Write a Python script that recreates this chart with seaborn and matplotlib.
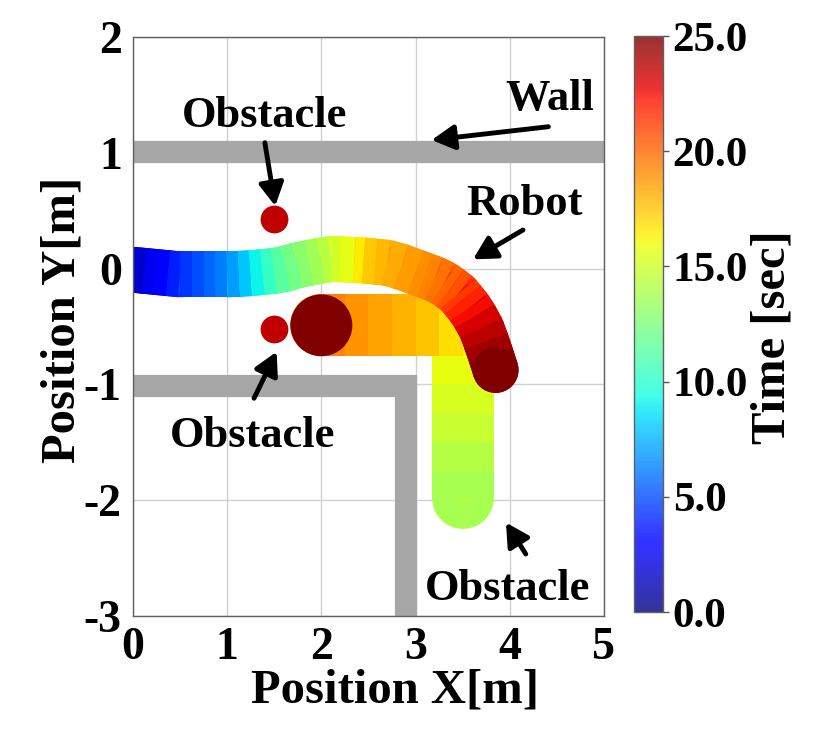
import matplotlib
matplotlib.use("Agg")
import numpy as np
import pandas as pd
import seaborn as sns
from matplotlib import pyplot as plt
from matplotlib.collections import LineCollection
from matplotlib.colors import Normalize, ListedColormap
from matplotlib.cm import ScalarMappable

# robot trajectory
robot_x = [0.0, 0.125, 0.25, 0.375, 0.5, 0.625, 0.75, 0.875, 1.0, 1.125, 1.25, 1.375,
           1.5, 1.625, 1.75, 1.875, 2.0, 2.1, 2.2, 2.35, 2.45, 2.575, 2.7, 2.85,
           3.0, 3.1, 3.2, 3.3, 3.37, 3.45, 3.5, 3.57, 3.63, 3.7, 3.75, 3.8, 3.85]
robot_y = [-0.01, -0.02, -0.03, -0.04, -0.05, -0.05, -0.05, -0.05, -0.05, -0.045, -0.04, -0.03,
           -0.02, 0.0, 0.03, 0.05, 0.07, 0.08, 0.08, 0.075, 0.07, 0.06, 0.05, 0.015,
           -0.03, -0.06, -0.09, -0.13, -0.17, -0.22, -0.27, -0.34, -0.415, -0.52, -0.63, -0.75, -0.876]
robot_t = [1.4, 2.1, 2.8, 3.5, 4.2, 4.7, 5.3, 5.9, 6.5, 7.4, 8.5, 9.7,
           10.9, 11.8, 12.6, 13.3, 14.0, 14.7, 15.3, 16.0, 17.2, 17.6, 18.0, 18.4,
           18.8, 19.1, 19.5, 19.9, 20.3, 20.9, 21.5, 22.1, 22.8, 23.4, 24.0, 24.5, 25.0]

# moving obstacle trajectory
obst_x = [3.5, 3.5, 3.5, 3.5, 3.5, 3.5, 3.5, 3.25, 3.0, 2.75, 2.5, 2.25, 2.0]
obst_y = [-1.98, -1.75, -1.5, -1.25, -1.0, -0.75, -0.49, -0.49, -0.49, -0.49, -0.49, -0.49, -0.49]
obst_t = [13.6, 14.0, 14.5, 15.0, 15.5, 16.0, 16.5, 17.2, 17.8, 18.2, 18.6, 19.0, 19.5]

# obstacle stays at its last position until the end
obst_end_x = [2.0]
obst_end_y = [-0.49]
obst_end_t = [25.0]

# static obstacles
static_x = [1.5, 1.5]
static_y = [0.43, -0.52]

# walls (centre lines)
wall_top_x = [-0.2, 5.2]
wall_top_y = [1.01, 1.01]
wall_low_x = [-0.2, 2.9, 2.9]
wall_low_y = [-1.01, -1.01, -3.2]

t_min, t_max = 0.0, 25.0
cbar_ticks = [0, 5, 10, 15, 20, 25]

sns.set_style("white")
plt.rcParams['font.family'] = ['Liberation Serif', 'DejaVu Serif']
plt.rcParams['font.weight'] = 'bold'
plt.rcParams['axes.labelweight'] = 'bold'
plt.rcParams['axes.unicode_minus'] = False
for key in ['text.color', 'axes.labelcolor', 'xtick.labelcolor', 'ytick.labelcolor']:
    plt.rcParams[key] = 'black'

fig = plt.figure(figsize=(8.27, 7.47), dpi=100)
ax = fig.add_axes([0.1608, 0.1754, 0.5695, 0.7751])
cax = fig.add_axes([0.7666, 0.1807, 0.0351, 0.7711])

norm = Normalize(t_min, t_max)
jet = plt.get_cmap('jet')


def band(xs, ys, ts, width, z):
    pts = np.column_stack([xs, ys])
    segs = np.stack([pts[:-1], pts[1:]], axis=1)
    tmid = (np.array(ts[:-1]) + np.array(ts[1:])) / 2
    cols = jet(norm(tmid))
    # round caps underneath fill the bends and the two ends,
    # butt caps on top keep the colour steps straight
    ax.add_collection(LineCollection(segs, colors=cols, linewidths=width,
                                     capstyle='round', zorder=z))
    ax.add_collection(LineCollection(segs, colors=cols, linewidths=width,
                                     capstyle='butt', zorder=z + 0.01))


# walls
ax.plot(wall_top_x, wall_top_y, color='#a6a6a6', lw=16, solid_capstyle='butt', zorder=1.5)
ax.plot(wall_low_x, wall_low_y, color='#a6a6a6', lw=16, solid_capstyle='butt',
        solid_joinstyle='miter', zorder=1.5)

band(obst_x, obst_y, obst_t, 44.6, 2.0)
band(robot_x, robot_y, robot_t, 33, 2.2)

# final positions of robot and moving obstacle
ends = pd.DataFrame({'x': [robot_x[-1]] + obst_end_x,
                     'y': [robot_y[-1]] + obst_end_y,
                     't': [robot_t[-1]] + obst_end_t,
                     'who': ['robot', 'obstacle']})
sns.scatterplot(data=ends, x='x', y='y', hue='t', palette=jet, hue_norm=(t_min, t_max),
                size='who', sizes={'robot': 33 ** 2, 'obstacle': 44.6 ** 2},
                linewidth=0, legend=False, ax=ax, zorder=2.5)
sns.scatterplot(x=static_x, y=static_y, color='#c00000', s=400, linewidth=0,
                legend=False, ax=ax, zorder=2.5)

# annotations: label, text pos, arrow tail, arrow head
notes = [
    ("Wall", (4.42, 1.37), (4.41, 1.225), (3.17, 1.11)),
    ("Obstacle", (1.40, 1.226), (1.40, 1.087), (1.51, 0.54)),
    ("Robot", (4.16, 0.463), (4.14, 0.333), (3.61, 0.08)),
    ("Obstacle", (1.27, -1.538), (1.285, -1.12), (1.525, -0.718)),
    ("Obstacle", (3.98, -2.862), (4.17, -2.465), (3.96, -2.194)),
]
for label, tpos, tail, head in notes:
    ax.text(tpos[0], tpos[1], label, fontsize=32, ha='center', va='baseline', zorder=5)
    ax.annotate('', xy=head, xytext=tail,
                arrowprops=dict(arrowstyle='-|>,head_length=0.55,head_width=0.3',
                                mutation_scale=25, lw=3.5, color='black',
                                shrinkA=0, shrinkB=0), zorder=5)

ax.set_xlim(0, 5)
ax.set_ylim(-3, 2)
ax.set_xticks(range(0, 6))
ax.set_yticks(range(-3, 3))
ax.grid(True, color='#d0d0d0', lw=1)
ax.set_axisbelow(True)
ax.tick_params(labelsize=33, length=4, width=1, color='#555555', direction='out', pad=4)
for s in ax.spines.values():
    s.set_color('#606060')
    s.set_linewidth(1)
ax.set_xlabel('Position X[m]', fontsize=35)
ax.xaxis.set_label_coords(0.556, -0.09)
ax.set_ylabel('Position Y[m]', fontsize=35)
ax.yaxis.set_label_coords(-0.102, 0.511)

# colorbar (drawn a bit transparent like the original)
cb_colors = jet(np.linspace(0, 1, 256))
cb_colors[:, 3] = 0.8
sm = ScalarMappable(norm=norm, cmap=ListedColormap(cb_colors))
cbar = fig.colorbar(sm, cax=cax, ticks=cbar_ticks, format='%.1f')
cbar.outline.set_edgecolor('#606060')
cbar.outline.set_linewidth(1)
cax.tick_params(labelsize=31, length=4, width=1, color='#555555', pad=3)
cbar.set_label('Time [sec]', fontsize=35)
cax.yaxis.set_label_coords(4.0, 0.4766)

fig.savefig('out.png', dpi=100)
